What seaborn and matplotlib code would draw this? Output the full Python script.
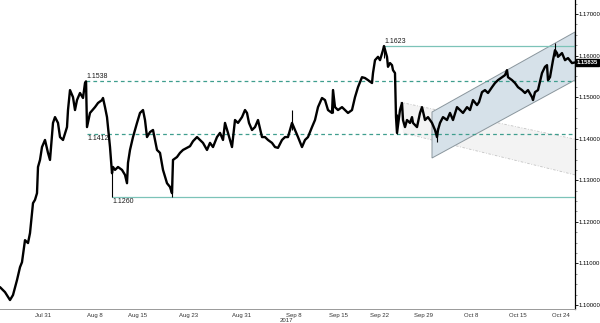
import numpy as np
import pandas as pd
import matplotlib
matplotlib.use("Agg")
import matplotlib.pyplot as plt
import seaborn as sns
from matplotlib.ticker import MultipleLocator, FixedLocator, FormatStrFormatter

# ---- data (bar position on the trading-time axis, close price) ----
bar = [0, 5, 10, 13, 17, 20, 22, 25, 28, 30, 33, 35, 37, 38, 40, 42, 45, 48, 50, 53,
       55, 58, 60, 63, 67, 68, 70, 73, 75, 77, 80, 83, 85, 86, 87, 90, 95, 98, 102, 103,
       105, 107, 108, 110, 112, 113, 115, 118, 122, 125, 127, 128, 130, 133, 137, 140,
       143, 145, 147, 150, 153, 157, 160, 163, 167, 170, 172, 173, 177, 180, 183, 187,
       190, 193, 197, 200, 203, 207, 210, 213, 217, 220, 223, 225, 228, 232, 235, 238,
       242, 245, 247, 249, 252, 255, 258, 262, 265, 268, 272, 275, 278, 282, 285, 288,
       292, 295, 298, 302, 305, 308, 312, 315, 318, 322, 325, 328, 332, 333, 335, 338,
       342, 345, 348, 352, 355, 358, 362, 365, 368, 372, 373, 375, 378, 380, 383, 384,
       387, 388, 390, 392, 393, 395, 396, 397, 400, 402, 403, 405, 407, 410, 412, 413,
       417, 420, 422, 425, 428, 432, 435, 437, 438, 440, 443, 447, 450, 453, 457, 460,
       463, 467, 470, 473, 477, 479, 482, 485, 488, 492, 495, 498, 502, 505, 507, 508,
       512, 515, 518, 522, 525, 528, 532, 533, 535, 538, 542, 545, 547, 548, 550, 553,
       555, 557, 558, 562, 565, 568, 572, 575]
close = [1.1043, 1.1031, 1.1012, 1.1024, 1.1060, 1.1091, 1.1103, 1.1156, 1.1149, 1.1173,
         1.1245, 1.1253, 1.1269, 1.1332, 1.1349, 1.1380, 1.1397, 1.1366, 1.1349, 1.1438,
         1.1452, 1.1438, 1.1404, 1.1397, 1.1428, 1.1469, 1.1517, 1.1500, 1.1469, 1.1493,
         1.1510, 1.1498, 1.1534, 1.1538, 1.1428, 1.1462, 1.1476, 1.1486, 1.1493, 1.1498,
         1.1476, 1.1452, 1.1428, 1.1380, 1.1317, 1.1332, 1.1325, 1.1332, 1.1325, 1.1313,
         1.1293, 1.1342, 1.1373, 1.1404, 1.1438, 1.1462, 1.1469, 1.1445, 1.1404, 1.1416,
         1.1421, 1.1373, 1.1366, 1.1325, 1.1293, 1.1284, 1.1269, 1.1349, 1.1356, 1.1366,
         1.1373, 1.1378, 1.1382, 1.1394, 1.1404, 1.1397, 1.1390, 1.1373, 1.1390, 1.1380,
         1.1404, 1.1414, 1.1397, 1.1438, 1.1414, 1.1380, 1.1445, 1.1438, 1.1452, 1.1469,
         1.1462, 1.1438, 1.1421, 1.1428, 1.1445, 1.1404, 1.1404, 1.1397, 1.1390, 1.1380,
         1.1378, 1.1397, 1.1404, 1.1404, 1.1438, 1.1421, 1.1404, 1.1380, 1.1397, 1.1404,
         1.1428, 1.1445, 1.1476, 1.1498, 1.1493, 1.1469, 1.1462, 1.1517, 1.1476, 1.1469,
         1.1476, 1.1469, 1.1462, 1.1469, 1.1500, 1.1524, 1.1548, 1.1546, 1.1541, 1.1534,
         1.1558, 1.1589, 1.1597, 1.1589, 1.1613, 1.1623, 1.1597, 1.1573, 1.1582, 1.1577,
         1.1565, 1.1558, 1.1452, 1.1414, 1.1469, 1.1486, 1.1445, 1.1428, 1.1445, 1.1438,
         1.1452, 1.1438, 1.1428, 1.1462, 1.1476, 1.1445, 1.1452, 1.1438, 1.1421, 1.1404,
         1.1421, 1.1438, 1.1452, 1.1445, 1.1462, 1.1445, 1.1476, 1.1469, 1.1462, 1.1476,
         1.1469, 1.1493, 1.1481, 1.1488, 1.1512, 1.1517, 1.1510, 1.1524, 1.1534, 1.1541,
         1.1548, 1.1553, 1.1565, 1.1548, 1.1541, 1.1534, 1.1524, 1.1517, 1.1510, 1.1517,
         1.1500, 1.1493, 1.1512, 1.1517, 1.1558, 1.1573, 1.1577, 1.1541, 1.1548, 1.1589,
         1.1613, 1.1606, 1.1597, 1.1606, 1.1589, 1.1594, 1.1582, 1.15835]

wick_bar = [86, 112, 172, 384, 397, 437, 555, 333, 292]
wick_low = [1.1515, 1.1260, 1.1260, 1.1595, 1.1412, 1.1392, 1.1598, 1.1462, 1.1420]
wick_high = [1.1538, 1.1335, 1.1300, 1.1623, 1.1460, 1.1425, 1.1630, 1.1520, 1.1470]

tick_pos = [43, 95, 138, 189, 242, 294, 338, 380, 423, 471, 518, 561]
tick_lab = ["Jul 31", "Aug 8", "Aug 15", "Aug 23", "Aug 31", "Sep 8", "Sep 15",
            "Sep 22", "Sep 29", "Oct 8", "Oct 15", "Oct 24"]

levels = [1.1538, 1.1412, 1.1260, 1.1623]
level_start = [86, 87, 112, 384]
level_text = ["1.1538", "1.1412", "1.1260", "1.1623"]

channel_x = [432, 432, 575, 575]
channel_y = [1.13536, 1.14642, 1.16567, 1.15412]
fan_x = [400, 575, 575, 403]
fan_y = [1.1488, 1.1399, 1.1313, 1.1414]

last_price = 1.15835

# ---- figure ----
sns.set_theme(style="white")
plt.rcParams['font.family'] = ['Liberation Sans', 'DejaVu Sans']
fig = plt.figure(figsize=(6, 3.23), dpi=100)
ax = fig.add_axes([0, 14 / 323, 575 / 600, 309 / 323])

# fan (light gray)
ax.fill(fan_x, fan_y, color="#efefef", alpha=0.7, lw=0, zorder=1)
ax.plot(fan_x[:2], fan_y[:2], color="#c4c4c4", lw=0.6, ls=(0, (3, 2, 1, 2)), zorder=1.5)
ax.plot(fan_x[2:], fan_y[2:], color="#c4c4c4", lw=0.6, ls=(0, (3, 2, 1, 2)), zorder=1.5)

# channel
ax.fill(channel_x, channel_y, facecolor="#d6e1e9", edgecolor="#8a969d", lw=0.7, zorder=2)

# levels
for lv, xs, txt in zip(levels, level_start, level_text):
    dashed = txt in ("1.1538", "1.1412")
    ax.plot([xs, 575], [lv, lv], color="#3f9e8e" if dashed else "#7cc3b8",
            lw=0.9, ls=(0, (3, 2.5)) if dashed else "-", zorder=2.5)
    above = txt in ("1.1538", "1.1623")
    ax.text(xs, lv + (0.00025 if above else -0.00025), txt, fontsize=5,
            color="#1a1a1a", ha="left", va="bottom" if above else "top", zorder=5)

# price
df = pd.DataFrame({"bar": bar, "close": close})
sns.lineplot(data=df, x="bar", y="close", color="black", lw=1.7, ax=ax, zorder=4)
ax.vlines(wick_bar, wick_low, wick_high, color="black", lw=0.8, zorder=4)

ax.set_xlim(0, 575)
ax.set_ylim(1.09904, 1.17337)
ax.set_xlabel("")
ax.set_ylabel("")

# axes styling
for s in ["top", "left"]:
    ax.spines[s].set_visible(False)
ax.spines["right"].set_color("black")
ax.spines["right"].set_linewidth(0.9)
ax.spines["bottom"].set_color("#999999")
ax.spines["bottom"].set_linewidth(0.7)

ax.yaxis.tick_right()
ax.yaxis.set_major_locator(MultipleLocator(0.01))
ax.yaxis.set_minor_locator(MultipleLocator(0.0025))
ax.yaxis.set_major_formatter(FormatStrFormatter("%.5f"))
ax.tick_params(axis="y", which="major", direction="out", length=2, width=0.6,
               labelsize=4.3, pad=0.8, colors="black")
ax.tick_params(axis="y", which="minor", direction="out", length=1.2, width=0.5, colors="#666666")

ax.xaxis.set_major_locator(FixedLocator(tick_pos))
ax.set_xticklabels(tick_lab)
ax.xaxis.set_minor_locator(MultipleLocator(7))
ax.tick_params(axis="x", which="major", direction="out", length=2, width=0.5,
               labelsize=4.3, pad=0.8, colors="#333333")
ax.tick_params(axis="x", which="minor", direction="out", length=1.3, width=0.4, colors="#888888")
fig.text(286 / 600, 1 - 320 / 323, "2017", fontsize=4.3, color="#333333",
         ha="center", va="center")

# last price tag
ax.text(577, last_price, "1.15835", fontsize=4.2, color="white", fontweight="bold",
        ha="left", va="center", clip_on=False, zorder=6,
        bbox=dict(boxstyle="square,pad=0.12", fc="black", ec="black"))

fig.savefig("out.png", dpi=100)
